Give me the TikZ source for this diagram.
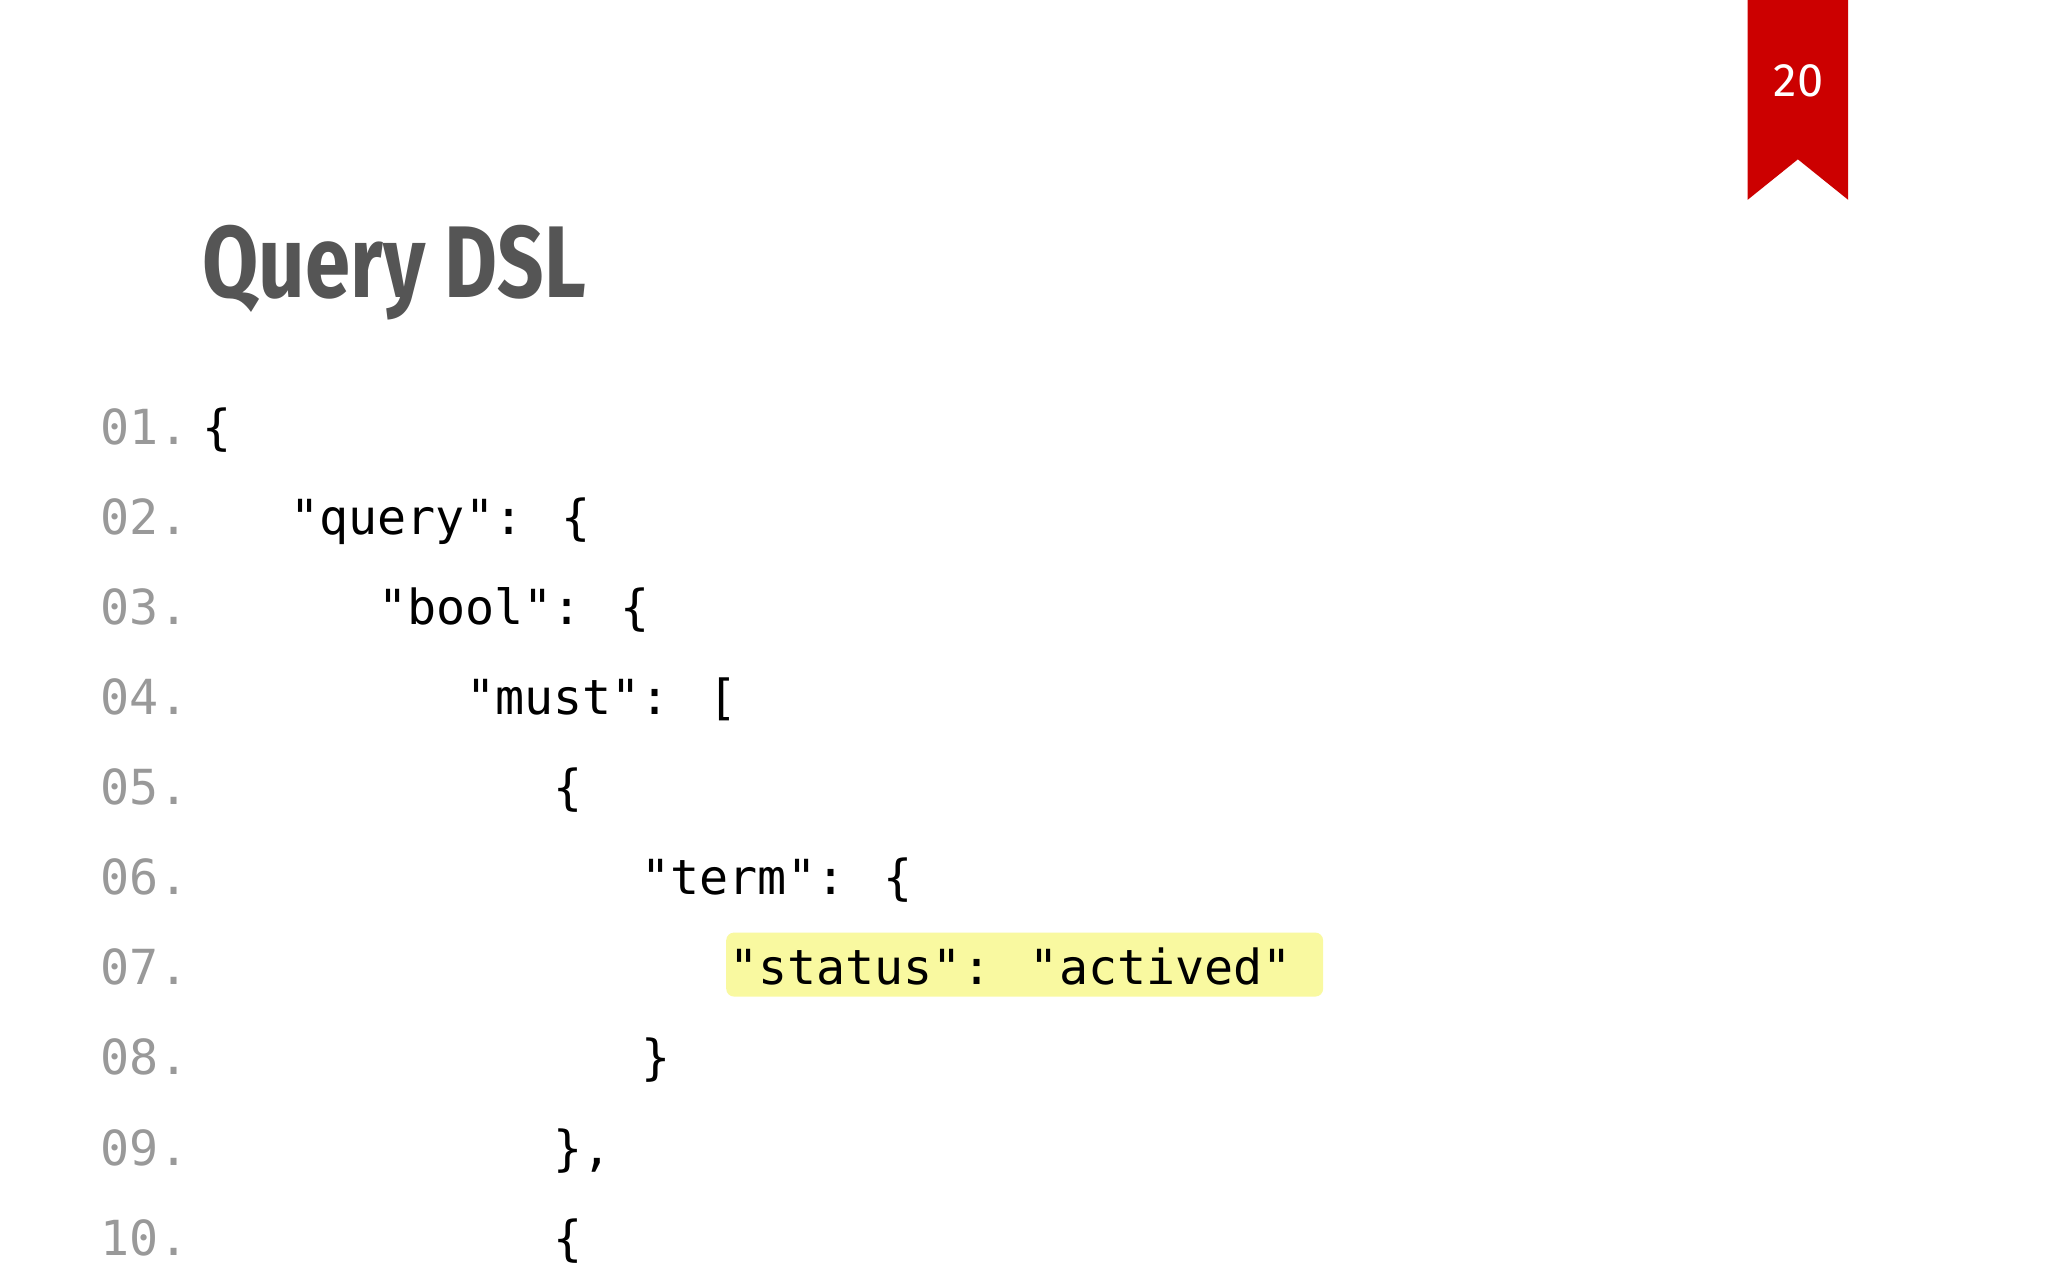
\documentclass[tikz,border=0pt]{standalone}
\usepackage{fontspec}
\setmainfont{Fira Sans}
\newfontfamily\codefont{DejaVu Sans Mono}
\definecolor{ribred}{HTML}{CC0000}
\definecolor{titlegray}{HTML}{555555}
\definecolor{numgray}{HTML}{999999}
\definecolor{hl}{HTML}{F9F9A0}
\begin{document}
\begin{tikzpicture}[x=1pt,y=-1pt,
  code/.style={anchor=base west,inner sep=0pt,font=\codefont\fontsize{37}{40}\selectfont},
  num/.style={code,text=numgray}]
\useasboundingbox (0,0) rectangle (1568,980);
\fill[white] (0,0) rectangle (1568,980);
\fill[ribred] (1338,0) -- (1415,0) -- (1415,153) -- (1376.5,122) -- (1338,153) -- cycle;
\node[text=white,font=\fontsize{36}{40}\selectfont] (pg) at (1377,62) {20};
\node[anchor=base west,inner sep=0pt,text=titlegray,xscale=0.8,font=\bfseries\fontsize{78}{80}\selectfont] (title) at (155,228) {Query DSL};
\fill[hl,rounded corners=6pt] (556,714) rectangle (1013,763);
\def\cw{22.4}
\foreach \n/\ind/\txt [count=\i] in {01/0/{\{}, 02/3/{"query": \{}, 03/6/{"bool": \{}, 04/9/{"must": [}, 05/12/{\{}, 06/15/{"term": \{}, 07/18/{"status": "actived"}, 08/15/{\}}, 09/12/{\},}, 10/12/{\{}}{
  \pgfmathsetmacro\yy{340+69*(\i-1)}
  \pgfmathsetmacro\xx{155+\cw*\ind}
  \node[num] (n\i) at (77,\yy) {\n.};
  \node[code] (c\i) at (\xx,\yy) {\txt};
}
\end{tikzpicture}
\end{document}
